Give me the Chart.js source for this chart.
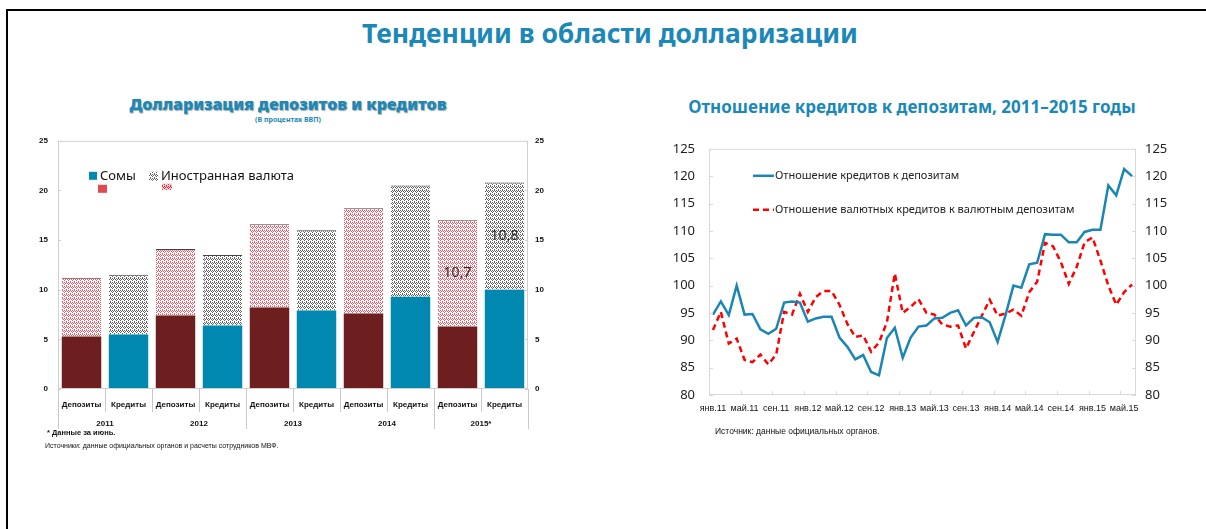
<!DOCTYPE html>
<html lang="ru">
<head>
<meta charset="utf-8">
<script src="https://cdn.jsdelivr.net/npm/chart.js@4.4.1/dist/chart.umd.min.js"></script>
<style>
  body { margin: 0; background: #fff; font-family: 'Noto Sans', sans-serif; }
  #page { position: relative; width: 1206px; height: 529px; overflow: hidden; background: #fff; }
  .frame-top { position: absolute; left: 6px; top: 9px; width: 1200px; height: 2px; background: #000; }
  .frame-left { position: absolute; left: 6px; top: 9px; width: 2px; height: 520px; background: #000; }
  .txt { position: absolute; margin: 0; white-space: nowrap; }
  #main-title { left: 0; width: 1220px; top: 15px; text-align: center; font-size: 26.5px; font-weight: bold; color: #1b88b8; }
  #left-title { left: 88px; width: 400px; top: 93px; text-align: center; font-size: 16px; font-weight: 900; color: #1b88b8;
    text-shadow: 1px 1px 1px rgba(0,0,0,0.35); }
  #left-sub { left: 88px; width: 400px; top: 115px; text-align: center; font-size: 7px; font-weight: bold; color: #1b88b8; }
  #right-title { left: 662px; width: 500px; top: 95px; text-align: center; font-size: 17px; font-weight: bold; color: #1b88b8; }
  #note1 { left: 47px; top: 428px; font-size: 7.5px; font-weight: bold; color: #111; font-family: 'Liberation Sans', sans-serif; }
  #note2 { left: 45px; top: 442px; font-size: 7px; color: #111; font-family: 'Liberation Sans', sans-serif; }
  #source { left: 715px; top: 426px; font-size: 8.5px; color: #111; font-family: 'Liberation Sans', sans-serif; }
  canvas { position: absolute; }
  #chartDollar { left: 20px; top: 126px; }
  #chartRatio { left: 660px; top: 127px; }
</style>
</head>
<body>
<div id="page">
  <div class="frame-top"></div>
  <div class="frame-left"></div>
  <h1 class="txt" id="main-title">Тенденции в области долларизации</h1>
  <div class="txt" id="left-title">Долларизация депозитов и кредитов</div>
  <div class="txt" id="left-sub">(В процентах ВВП)</div>
  <div class="txt" id="right-title">Отношение кредитов к депозитам, 2011–2015 годы</div>
  <canvas id="chartDollar" width="560" height="334"></canvas>
  <canvas id="chartRatio" width="546" height="308"></canvas>
  <div class="txt" id="note1">* Данные за июнь.</div>
  <div class="txt" id="note2">Источники: данные официальных органов и расчеты сотрудников МВФ.</div>
  <div class="txt" id="source">Источник: данные официальных органов.</div>
</div>

<script>
// Левый график: долларизация (в процентах ВВП)
const barLabels = ['Депозиты', 'Кредиты', 'Депозиты', 'Кредиты', 'Депозиты', 'Кредиты', 'Депозиты', 'Кредиты', 'Депозиты', 'Кредиты'];
const barYears = ['2011', '2012', '2013', '2014', '2015*'];
const somValues = [5.3, 5.5, 7.4, 6.4, 8.2, 7.9, 7.6, 9.3, 6.3, 10.0];
const fxValues = [5.9, 6.0, 6.7, 7.1, 8.4, 8.1, 10.6, 11.2, 10.7, 10.8];
const labelledBars = [8, 9];

// Правый график: отношение кредитов к депозитам, янв.2011 - июн.2015
const monthNames = ['янв', 'фев', 'мар', 'апр', 'май', 'июн', 'июл', 'авг', 'сен', 'окт', 'ноя', 'дек'];
const lineYears = ['11', '12', '13', '14', '15'];
const ratioAll = [
  94.7, 97.1, 94.6, 100.0, 94.7, 94.8, 92.0, 91.2, 92.1, 96.9, 97.1, 96.9,
  93.4, 94.0, 94.3, 94.3, 90.5, 88.8, 86.5, 87.3, 84.2, 83.6, 90.4, 92.3,
  86.8, 90.5, 92.5, 92.7, 94.0, 94.1, 95.0, 95.5, 92.7, 94.1, 94.2, 93.3,
  89.7, 94.6, 100.0, 99.6, 103.9, 104.2, 109.4, 109.3, 109.3, 107.9, 107.9, 109.8,
  110.2, 110.2, 118.3, 116.5, 121.3, 120.0,
];
const ratioFx = [
  91.9, 95.2, 89.4, 90.3, 86.4, 86.0, 87.4, 85.6, 87.4, 95.2, 94.7, 98.5,
  95.2, 97.9, 99.0, 99.0, 96.5, 93.0, 90.6, 90.9, 87.9, 89.6, 93.3, 102.2,
  95.0, 96.1, 97.5, 95.0, 94.7, 92.9, 92.5, 92.7, 88.5, 91.5, 94.5, 97.4,
  94.5, 94.9, 95.6, 94.5, 98.8, 100.7, 107.8, 107.2, 104.3, 100.3, 103.4, 107.9,
  108.8, 104.6, 100.0, 96.5, 98.8, 100.2,
];
const ratioTicks = [80, 125, 5];

const monthLabels = [];
lineYears.forEach((y) => monthNames.forEach((m) => monthLabels.push(`${m}.${y}`)));
monthLabels.length = ratioAll.length;

const MAROON = '#6d1f1f';
const TEAL = '#0088b1';
const LINE_BLUE = '#1a86b4';
const LINE_RED = '#ff0000';

function makePattern(ctx, fg, bg) {
  const c = document.createElement('canvas');
  c.width = 4;
  c.height = 4;
  const g = c.getContext('2d');
  g.fillStyle = bg;
  g.fillRect(0, 0, 4, 4);
  g.fillStyle = fg;
  [[0, 0], [2, 0], [1, 1], [3, 1], [0, 2], [2, 3]].forEach(([x, y]) => g.fillRect(x, y, 1, 1));
  return ctx.createPattern(c, 'repeat');
}

// рамка области построения и внутренние засечки
const plotBox = {
  id: 'plotBox',
  afterDraw(chart, args, opts) {
    const { ctx, chartArea: a } = chart;
    ctx.save();
    ctx.strokeStyle = opts.color;
    ctx.lineWidth = 1;
    ctx.strokeRect(a.left + 0.5, a.top + 0.5, a.width - 1, a.height - 1);
    const y = chart.scales.y;
    y.ticks.forEach((t, i) => {
      const py = Math.round(y.getPixelForTick(i)) + 0.5;
      ctx.beginPath();
      ctx.moveTo(a.left, py);
      ctx.lineTo(a.left + opts.len, py);
      ctx.moveTo(a.right - opts.len, py);
      ctx.lineTo(a.right, py);
      ctx.stroke();
    });
    if (opts.xEvery) {
      const x = chart.scales.x;
      const step = x.getPixelForValue(1) - x.getPixelForValue(0);
      for (let i = opts.xEvery; i < x.getLabels().length; i += opts.xEvery) {
        const px = Math.round(x.getPixelForValue(i) - step / 2) + 0.5;
        ctx.beginPath();
        ctx.moveTo(px, a.bottom);
        ctx.lineTo(px, a.bottom - opts.len);
        ctx.stroke();
      }
    }
    ctx.restore();
  },
};

// годы под подписями и разделители
const groupAxis = {
  id: 'groupAxis',
  afterDraw(chart) {
    const { ctx, chartArea: a } = chart;
    const x = chart.scales.x;
    const n = barLabels.length;
    const step = x.getPixelForValue(1) - x.getPixelForValue(0);
    ctx.save();
    ctx.strokeStyle = '#c8c8c8';
    ctx.lineWidth = 1;
    for (let b = 0; b <= n; b++) {
      const px = Math.round(x.getPixelForValue(0) - step / 2 + b * step) + 0.5;
      const long = b % 4 === 0 || b === n;
      ctx.beginPath();
      ctx.moveTo(px, a.bottom);
      ctx.lineTo(px, a.bottom + (long ? 40 : 23));
      ctx.stroke();
    }
    ctx.fillStyle = '#111';
    ctx.font = 'bold 8px "Liberation Sans", sans-serif';
    ctx.textAlign = 'center';
    ctx.textBaseline = 'middle';
    barYears.forEach((yr, k) => {
      const cx = (x.getPixelForValue(2 * k) + x.getPixelForValue(2 * k + 1)) / 2;
      ctx.fillText(yr, cx, a.bottom + 35);
    });
    ctx.restore();
  },
};

// подписи значений и легенда левого графика
const barExtras = {
  id: 'barExtras',
  afterDraw(chart) {
    const { ctx, chartArea: a } = chart;
    const meta = chart.getDatasetMeta(1);
    ctx.save();
    ctx.fillStyle = '#2a2a2a';
    ctx.font = '14px "Noto Sans", sans-serif';
    ctx.textAlign = 'center';
    ctx.textBaseline = 'middle';
    labelledBars.forEach((i) => {
      const el = meta.data[i];
      ctx.fillText(fxValues[i].toFixed(1).replace('.', ','), el.x, (el.y + el.base) / 2);
    });

    const lx = a.left + 31;
    const ly = a.top + 31;
    ctx.fillStyle = TEAL;
    ctx.fillRect(lx, ly, 8, 8);
    ctx.fillStyle = grayPattern;
    ctx.fillRect(lx + 60, ly, 9, 9);
    ctx.fillStyle = '#111';
    ctx.font = '13px "Noto Sans", sans-serif';
    ctx.textAlign = 'left';
    ctx.fillText('Сомы', lx + 11, ly + 4);
    ctx.fillText('Иностранная валюта', lx + 72, ly + 4);
    ctx.fillStyle = '#de4a4f';
    ctx.fillRect(lx + 9, ly + 13, 9, 8);
    ctx.fillStyle = makePattern(ctx, '#e0303f', '#f7c9cc');
    ctx.fillRect(lx + 73, ly + 12, 10, 6);
    ctx.restore();
  },
};

// легенда правого графика
const lineLegend = {
  id: 'lineLegend',
  afterDraw(chart) {
    const { ctx, chartArea: a } = chart;
    ctx.save();
    ctx.font = '11px "Noto Sans", sans-serif';
    ctx.textBaseline = 'middle';
    chart.data.datasets.forEach((ds, i) => {
      const y = a.top + 27 + i * 34;
      const x0 = a.left + 44;
      ctx.strokeStyle = ds.borderColor;
      ctx.lineWidth = ds.borderWidth;
      ctx.setLineDash(ds.borderDash || []);
      ctx.beginPath();
      ctx.moveTo(x0, y);
      ctx.lineTo(x0 + 21, y);
      ctx.stroke();
      ctx.setLineDash([]);
      ctx.fillStyle = '#222';
      ctx.fillText(ds.label, x0 + 22, y);
    });
    ctx.restore();
  },
};

const ctxDollar = document.getElementById('chartDollar').getContext('2d');
const pinkPattern = makePattern(ctxDollar, '#ea5a66', '#ffffff');
const grayPattern = makePattern(ctxDollar, '#606060', '#ffffff');

const leftTickFont = { family: '"Liberation Sans", sans-serif', size: 8, weight: 'bold' };

new Chart(ctxDollar, {
  type: 'bar',
  data: {
    labels: barLabels,
    datasets: [
      {
        label: 'Сомы',
        data: somValues,
        backgroundColor: barLabels.map((l, i) => (i % 2 === 0 ? MAROON : TEAL)),
        borderWidth: 0,
      },
      {
        label: 'Иностранная валюта',
        data: fxValues,
        backgroundColor: barLabels.map((l, i) => (i % 2 === 0 ? pinkPattern : grayPattern)),
        borderColor: '#444',
        borderWidth: { top: 1, left: 0, right: 0, bottom: 0 },
        borderSkipped: false,
      },
    ],
  },
  options: {
    responsive: false,
    animation: false,
    devicePixelRatio: 1,
    layout: { padding: { top: 7, right: 30, left: 0, bottom: 0 } },
    datasets: { bar: { barPercentage: 0.84, categoryPercentage: 1 } },
    plugins: {
      legend: { display: false },
      tooltip: { enabled: false },
      plotBox: { color: '#d0d0d0', len: 3 },
    },
    scales: {
      x: {
        stacked: true,
        grid: { display: false, drawTicks: false },
        border: { display: false },
        ticks: { color: '#111', font: leftTickFont, padding: 11, maxRotation: 0, autoSkip: false },
        afterFit: (s) => { s.height = 71; },
      },
      y: {
        stacked: true,
        min: 0,
        max: 25,
        grid: { display: false, drawTicks: false },
        border: { display: false },
        ticks: { stepSize: 5, color: '#111', font: leftTickFont, padding: 10 },
        afterFit: (s) => { s.width = 38; },
      },
      y2: {
        position: 'right',
        min: 0,
        max: 25,
        display: true,
        grid: { display: false, drawTicks: false },
        border: { display: false },
        ticks: { stepSize: 5, color: '#111', font: leftTickFont, padding: 7 },
        afterFit: (s) => { s.width = 22; },
      },
    },
  },
  plugins: [plotBox, groupAxis, barExtras],
});

const rightTickFont = { family: '"Noto Sans", sans-serif', size: 13 };

new Chart(document.getElementById('chartRatio'), {
  type: 'line',
  data: {
    labels: monthLabels,
    datasets: [
      {
        label: 'Отношение кредитов к депозитам',
        data: ratioAll,
        borderColor: LINE_BLUE,
        borderWidth: 2.5,
        pointRadius: 0,
        tension: 0,
      },
      {
        label: 'Отношение валютных кредитов к валютным депозитам',
        data: ratioFx,
        borderColor: LINE_RED,
        borderWidth: 2.5,
        borderDash: [6, 4],
        pointRadius: 0,
        tension: 0,
      },
    ],
  },
  options: {
    responsive: false,
    animation: false,
    devicePixelRatio: 1,
    layout: { padding: { top: 5, right: 25, left: 0, bottom: 0 } },
    plugins: {
      legend: { display: false },
      tooltip: { enabled: false },
      plotBox: { color: '#d9d9d9', len: 4, xEvery: 4 },
    },
    scales: {
      x: {
        offset: true,
        grid: { display: false, drawTicks: false },
        border: { display: false },
        ticks: {
          autoSkip: false,
          maxRotation: 0,
          padding: 8,
          color: '#111',
          font: { family: '"Liberation Sans", sans-serif', size: 9 },
          callback: (v, i) => (i % 4 === 0 ? monthLabels[i] : ''),
        },
        afterFit: (s) => { s.height = 40; },
      },
      y: {
        min: ratioTicks[0],
        max: ratioTicks[1],
        grid: { display: false, drawTicks: false },
        border: { display: false },
        ticks: { stepSize: ratioTicks[2], color: '#222', font: rightTickFont, padding: 14 },
        afterFit: (s) => { s.width = 49; },
      },
      y2: {
        position: 'right',
        display: true,
        min: ratioTicks[0],
        max: ratioTicks[1],
        grid: { display: false, drawTicks: false },
        border: { display: false },
        ticks: { stepSize: ratioTicks[2], color: '#222', font: rightTickFont, padding: 9 },
        afterFit: (s) => { s.width = 45; },
      },
    },
  },
  plugins: [plotBox, lineLegend],
});
</script>
</body>
</html>
